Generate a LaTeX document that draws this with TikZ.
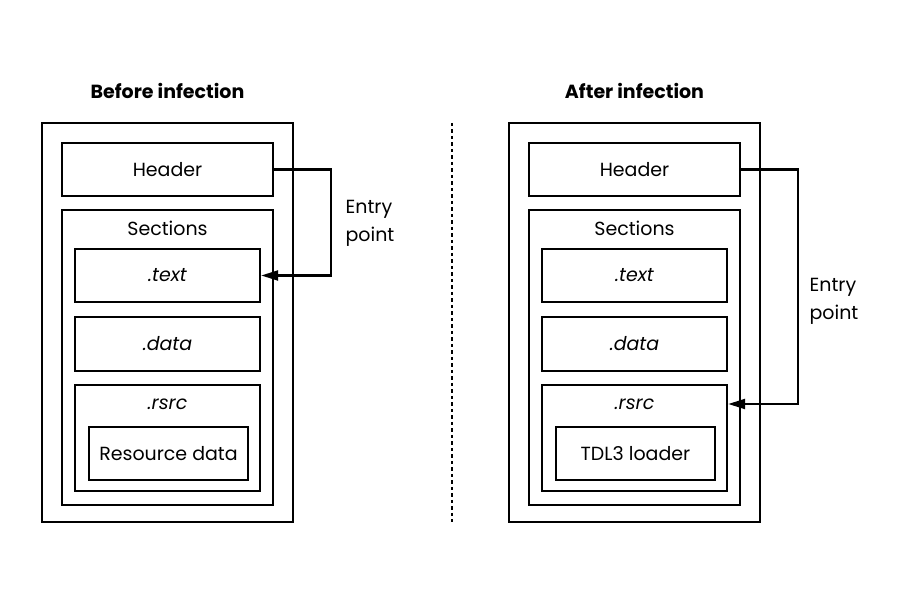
\documentclass[tikz,border=0pt]{standalone}
\usepackage{fontspec}
\setmainfont{Poppins}
\usetikzlibrary{arrows.meta,positioning}

\begin{document}
\begin{tikzpicture}[%
	x=1pt,y=1pt,on grid,>={Triangle[length=17pt,width=10pt]},
	every node/.style={font=\fontsize{19}{28}\selectfont},
	frame/.style={draw,line width=2.4pt,minimum width=251pt,minimum height=399pt},
	part/.style={draw,line width=2.4pt,minimum width=211pt},
	sect/.style={draw,line width=2.4pt,minimum width=185pt},
	payload/.style={draw,line width=2.4pt,minimum width=159pt,minimum height=53pt},
	title/.style={font=\fontsize{19}{22}\selectfont\bfseries},
	link/.style={line width=2.2pt}]

	\useasboundingbox (0,0) rectangle (900,600);

	% before infection
	\node[title]	(Ltitle)	at (167.5,509)	{Before infection};
	\node[frame]	(Lfile)		at (167.5,277.5)	{};
	\node[part,minimum height=53pt]		(Lhead)	at (167.5,430.5)	{Header};
	\node[part,minimum height=295pt]	(Lsect)	at (167.5,242.5)	{};
	\node	(LsectT)	at (167.5,372)	{Sections};
	\node[sect,minimum height=53pt]		(Ltext)	at (167.5,324.5)	{\itshape .text};
	\node[sect,minimum height=54pt]		(Ldata)	[below=68.5 of Ltext]	{\itshape .data};
	\node[sect,minimum height=106pt]	(Lrsrc)	[below=94 of Ldata]	{};
	\node	(LrsrcT)	at (167.5,196)	{\itshape .rsrc};
	\node[payload]	(Lres)	at (168.5,146.5)	{Resource data};
	\node[align=left]	(Lentry)	at (370,377)	{Entry\\point};

	\coordinate (Lc1) at (331,430.5);
	\coordinate (Lc2) at (331,324.5);
	\draw[link,->] (Lhead.east) -- (Lc1) -- (Lc2) -- (Ltext.east);

	% separator
	\coordinate (Stop) at (452,477);
	\coordinate (Sbot) at (452,78);
	\draw[line width=2.4pt,dash pattern=on 3.5pt off 3pt] (Stop) -- (Sbot);

	% after infection
	\node[title]	(Rtitle)	at (634.5,509)	{After infection};
	\node[frame]	(Rfile)		at (634.5,277.5)	{};
	\node[part,minimum height=53pt]		(Rhead)	at (634.5,430.5)	{Header};
	\node[part,minimum height=295pt]	(Rsect)	at (634.5,242.5)	{};
	\node	(RsectT)	at (634.5,372)	{Sections};
	\node[sect,minimum height=53pt]		(Rtext)	at (634.5,324.5)	{\itshape .text};
	\node[sect,minimum height=54pt]		(Rdata)	[below=68.5 of Rtext]	{\itshape .data};
	\node[sect,minimum height=106pt]	(Rrsrc)	[below=94 of Rdata]	{};
	\node	(RrsrcT)	at (634.5,196)	{\itshape .rsrc};
	\node[payload]	(Rres)	at (635.5,146.5)	{TDL3 loader};
	\node[align=left]	(Rentry)	at (834,299)	{Entry\\point};

	\coordinate (Rc1) at (798,430.5);
	\coordinate (Rc2) at (798,196);
	\draw[link,->] (Rhead.east) -- (Rc1) -- (Rc2) -- (Rrsrc.east |- Rc2);

\end{tikzpicture}
\end{document}
